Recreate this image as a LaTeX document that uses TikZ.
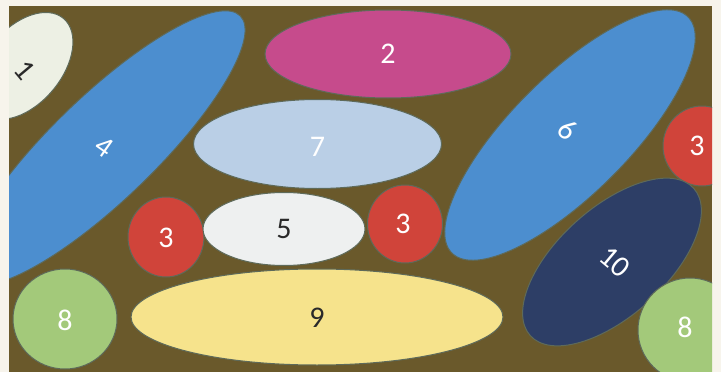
\documentclass[tikz,border=0pt]{standalone}
\usepackage{fontspec}
\setmainfont{Carlito}
\usetikzlibrary{shapes.geometric}
\definecolor{paper}{HTML}{F7F4EC}
\definecolor{bgbrown}{HTML}{6A592B}
\definecolor{cblue}{HTML}{4C8ECF}
\definecolor{cpink}{HTML}{C64B8C}
\definecolor{clight}{HTML}{BACFE6}
\definecolor{cwhite}{HTML}{EEF0F0}
\definecolor{ccream}{HTML}{EDF0E4}
\definecolor{cred}{HTML}{D0443A}
\definecolor{cgreen}{HTML}{A3C97A}
\definecolor{cyellow}{HTML}{F6E38C}
\definecolor{cnavy}{HTML}{2D3E66}
\definecolor{edge}{HTML}{5E6A5A}
\definecolor{darktext}{HTML}{2A2A2A}
\tikzset{
  blob/.style={ellipse, inner sep=0pt, outer sep=0pt, draw=edge, line width=1pt},
  lbl/.style={font=\fontsize{30}{30}\selectfont, text=white, inner sep=0pt},
  dlbl/.style={lbl, text=darktext}
}
\begin{document}
\begin{tikzpicture}[x=1pt,y=-1pt]
\fill[paper] (0,0) rectangle (721,372);
\useasboundingbox (0,0) rectangle (721,372);
\begin{scope}
\clip (9,6) rectangle (712,372);
\fill[bgbrown] (9,6) rectangle (712,372);
% shapes
\node[blob, fill=ccream, minimum width=124pt, minimum height=76pt, rotate=50] (e1) at (23.6,65.9) {};
\node[blob, fill=cblue, minimum width=380pt, minimum height=104pt, rotate=44] (e4) at (103.7,148) {};
\node[blob, fill=cpink, minimum width=246pt, minimum height=88pt] (e2) at (388,54) {};
\node[blob, fill=clight, minimum width=248pt, minimum height=89pt] (e7) at (317.5,144) {};
\node[blob, fill=cblue, minimum width=334pt, minimum height=118pt, rotate=45] (e6) at (570,135) {};
\node[blob, fill=cred, minimum width=78pt, minimum height=80pt] (c3r) at (702,146) {};
\node[blob, fill=cred, minimum width=76pt, minimum height=80pt] (c3l) at (166,237) {};
\node[blob, fill=cwhite, minimum width=162pt, minimum height=73pt] (e5) at (284,229) {};
\node[blob, fill=cred, minimum width=75pt, minimum height=78pt] (c3m) at (405,224) {};
\node[blob, fill=cnavy, minimum width=220pt, minimum height=108pt, rotate=42] (e10) at (612,262) {};
\node[blob, fill=cgreen, minimum width=104pt, minimum height=100pt] (c8l) at (65,319) {};
\node[blob, fill=cgreen, minimum width=104pt, minimum height=104pt] (c8r) at (690,330) {};
\node[blob, fill=cyellow, minimum width=372pt, minimum height=96pt] (e9) at (317,317) {};
% labels
\node[dlbl, rotate=-50] (t1) at ([xshift=1pt,yshift=-4pt]e1.center) {1};
\node[lbl] (t2) at (e2.center) {2};
\node[lbl, rotate=-35] (t4) at ([xshift=1pt,yshift=1pt]e4.center) {4};
\node[lbl] (t7) at ([yshift=-3pt]e7.center) {7};
\node[lbl, rotate=-40] (t6) at ([xshift=-2pt,yshift=5pt]e6.center) {6};
\node[lbl] (t3r) at ([xshift=-5pt]c3r.center) {3};
\node[lbl] (t3l) at ([yshift=-1pt]c3l.center) {3};
\node[dlbl] (t5) at (e5.center) {5};
\node[lbl] (t3m) at ([xshift=-2pt]c3m.center) {3};
\node[lbl, rotate=-40] (t10) at ([xshift=3pt]e10.center) {10};
\node[lbl] (t8l) at ([yshift=-1pt]c8l.center) {8};
\node[lbl] (t8r) at ([xshift=-5pt,yshift=3pt]c8r.center) {8};
\node[dlbl] (t9) at ([yshift=-1pt]e9.center) {9};
\end{scope}
\end{tikzpicture}
\end{document}
